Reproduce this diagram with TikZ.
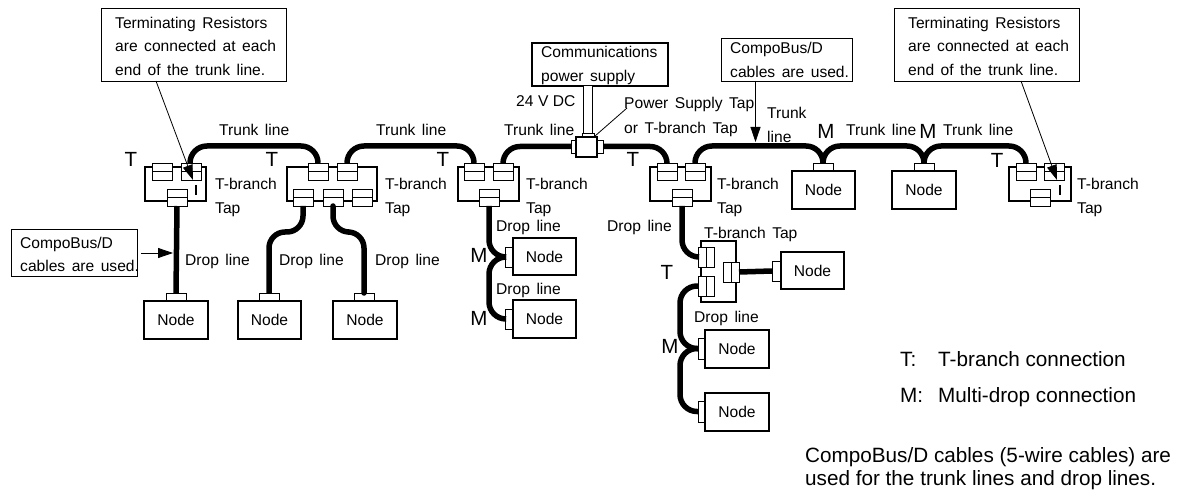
\documentclass[tikz,border=0pt]{standalone}
\usepackage{fontspec}
\setmainfont{Liberation Sans}
\usetikzlibrary{arrows.meta}
\newcommand{\bx}[6][]{% name x1 x2 y1 y2
  \pgfmathsetmacro{\bcx}{(#3+#4)/2}\pgfmathsetmacro{\bcy}{(#5+#6)/2}
  \pgfmathsetmacro{\bw}{#4-#3}\pgfmathsetmacro{\bh}{#6-#5}
  \node[minimum width=\bw pt,minimum height=\bh pt,#1] (#2) at (\bcx,\bcy) {};}
\newcommand{\vcon}[3]{%
  \bx[conn]{#1}{#2}{#2+20}{#3}{#3+17}
  \draw[connline] (#1.west) -- (#1.east);}
\newcommand{\hcon}[3]{%
  \bx[conn]{#1}{#2}{#2+16}{#3}{#3+20}
  \draw[connline] (#1.north) -- (#1.south);}
\newcommand{\lblfont}{\fontsize{15.6}{18}\selectfont\spaceskip=6.5pt plus 0pt minus 0pt\relax}
\tikzset{
  x=1pt,y=-1pt,
  conn/.style={draw,fill=white,line width=0.9pt,inner sep=0pt,outer sep=0pt},
  connline/.style={line width=0.9pt},
  tapbox/.style={draw,line width=1.3pt,inner sep=0pt,outer sep=0pt},
  nodebox/.style={draw,line width=1.4pt,fill=white,inner sep=0pt,outer sep=0pt},
  stub/.style={draw,fill=white,line width=0.9pt,inner sep=0pt,outer sep=0pt},
  callout/.style={draw,line width=0.9pt,fill=white,inner sep=0pt,outer sep=0pt},
  lbl/.style={anchor=base west,yshift=-5.7pt,inner sep=0pt,font=\lblfont},
  big/.style={inner sep=0pt,font=\fontsize{20.5}{22}\selectfont},
  leg/.style={anchor=base west,inner sep=0pt,font=\fontsize{20.7}{24}\selectfont},
  cable/.style={line width=5.5pt,rounded corners=17pt},
  lead/.style={line width=0.8pt,-{Triangle[length=15pt,width=10pt]}},
}
\begin{document}
\begin{tikzpicture}
\useasboundingbox (0,0) rectangle (1180,494);
% ---- tap boxes
\bx[tapbox]{tapA}{145}{206}{167}{201}
\bx[tapbox]{tapB}{287}{377}{167}{201}
\bx[tapbox]{tapC}{458}{519}{167}{201}
\bx[tapbox]{tapD}{650}{711}{167}{201}
\bx[tapbox]{tapE}{1009}{1071}{167}{201}
\bx[tapbox]{tapF}{701}{736}{241}{302}
% ---- connectors on taps
\vcon{aT1}{152}{163}\vcon{aT2}{181}{163}\vcon{aB}{167}{189}
\vcon{bT1}{308}{163}\vcon{bT2}{337}{163}\vcon{bB1}{293}{189}\vcon{bB2}{323}{189}\vcon{bB3}{352}{189}
\vcon{cT1}{464}{163}\vcon{cT2}{493}{163}\vcon{cB}{479}{189}
\vcon{dT1}{657}{163}\vcon{dT2}{685}{163}\vcon{dB}{672}{189}
\vcon{eT1}{1016}{163}\vcon{eT2}{1044}{163}\vcon{eB}{1030}{189}
\hcon{fL1}{698}{247}\hcon{fL2}{698}{276}\hcon{fR}{723}{262}
% ---- terminating resistors
\coordinate (ra1) at (196,185);\coordinate (ra2) at (196,195);
\coordinate (re1) at (1060,185);\coordinate (re2) at (1060,195);
\draw[line width=2.2pt] (ra1) -- (ra2);
\draw[line width=2.2pt] (re1) -- (re2);
% ---- power tap
\bx[stub]{psT}{582}{594}{133}{137}
\bx[stub]{psL}{571}{576}{140}{153}
\bx[stub]{psR}{597}{603}{140}{153}
\bx[tapbox,fill=white]{ps}{576}{597}{137}{157}
\bx[nodebox]{pw}{532}{668}{43}{86}
\draw[line width=0.8pt,double,double distance=7.5pt] (psT.north) -- (psT.north |- pw.south);
% ---- nodes
\bx[stub]{n1s}{166}{186}{293}{301}\bx[nodebox]{n1}{144}{208}{301}{339}
\bx[stub]{n2s}{259}{279}{293}{301}\bx[nodebox]{n2}{238}{301}{301}{339}
\bx[stub]{n3s}{354}{374}{293}{301}\bx[nodebox]{n3}{333}{397}{301}{339}
\bx[stub]{n4s}{505}{513}{247}{267}\bx[nodebox]{n4}{513}{576}{238}{275}
\bx[stub]{n5s}{505}{513}{309}{329}\bx[nodebox]{n5}{513}{576}{300}{338}
\bx[stub]{n6s}{772}{781}{261}{281}\bx[nodebox]{n6}{781}{844}{252}{289}
\bx[stub]{n7s}{698}{705}{338}{359}\bx[nodebox]{n7}{705}{769}{330}{368}
\bx[stub]{n8s}{698}{705}{401}{422}\bx[nodebox]{n8}{705}{769}{393}{431}
\bx[stub]{n9s}{813}{833}{163}{171}\bx[nodebox]{n9}{792}{855}{171}{209}
\bx[stub]{n10s}{914}{934}{163}{171}\bx[nodebox]{n10}{892}{956}{171}{209}
\foreach \n in {n1,n2,n3,n4,n5,n6,n7,n8,n9,n10}{\node[font=\fontsize{15.6}{18}\selectfont,inner sep=0pt] (\n txt) at (\n) {Node};}
% ---- trunk cables
\coordinate (ty) at (0,146);
\coordinate (xc) at (489,0);
\coordinate (xd) at (680,0);
\draw[cable] (aT2.north) ++(-1,0) |- (ty -| bT1.north) -- (bT1.north);
\draw[cable] (bT2.north) |- (ty -| cT1.north) -- (cT1.north);
\draw[cable] (cT2.north) |- (psL.west);
\draw[cable] (psR.east) -| (dT1.north);
\draw[cable] (dT2.north) |- (ty -| n9s.north) -- (n9s.north);
\draw[cable] (n9s.north) |- (ty -| n10s.north) -- (n10s.north);
\draw[cable] (n10s.north) |- (ty -| eT1.north) -- (eT1.north);
% ---- drop cables
\draw[cable,rounded corners=0pt] (aB.south) -- (n1s.north);
\coordinate (m2) at (0,232);
\draw[cable,rounded corners=16pt] (bB1.south) |- (m2 -| n2s.north) -- (n2s.north);
\draw[cable,rounded corners=16pt,line cap=round] (bB2.south) |- (m2 -| n3s.north) -- (n3s.north);
\draw[cable] (cB.south) |- (n4s.west);
\draw[cable] (n4s.west) -| (xc |- n5s.west) -- (n5s.west);
\draw[cable] (dB.south) |- (fL1.west);
\draw[cable] (fL2.west) -| (xd |- n7s.west) -- (n7s.west);
\draw[cable] (n7s.west) -| (xd |- n8s.west) -- (n8s.west);
\draw[cable,rounded corners=0pt] (fR.east) -- (n6s.west);
% ---- callouts
\bx[callout]{cTL}{101}{286}{8}{81}
\bx[callout]{cTR}{894}{1079}{8}{81}
\bx[callout]{cCL}{11}{137}{229}{276}
\bx[callout]{cCT}{721}{852}{38}{81}
\node[lbl] (tl1) at (115,23) {Terminating Resistors};
\node[lbl] (tl2) at (115,46) {are connected at each};
\node[lbl] (tl3) at (115,70) {end of the trunk line.};
\node[lbl] (tr1) at (908,23) {Terminating Resistors};
\node[lbl] (tr2) at (908,46) {are connected at each};
\node[lbl] (tr3) at (908,70) {end of the trunk line.};
\node[lbl] (cl1) at (20,243) {CompoBus/D};
\node[lbl] (cl2) at (20,266) {cables are used.};
\node[lbl] (ct1) at (730,48) {CompoBus/D};
\node[lbl] (ct2) at (730,72) {cables are used.};
\node[lbl] (pw1) at (541,52) {Communications};
\node[lbl] (pw2) at (541,76) {power supply};
% ---- leaders
\coordinate (lTL) at (156,81);\coordinate (aTL) at (193,180);
\coordinate (lTR) at (1021,81);\coordinate (aTR) at (1057,180);
\coordinate (lCL) at (141,253);\coordinate (aCL) at (173,253);
\coordinate (lCT) at (755.5,81);\coordinate (aCT) at (755.5,142);
\coordinate (lPS) at (627,108);\coordinate (aPS) at (595,136);
\draw[lead] (lTL) -- (aTL);
\draw[lead] (lTR) -- (aTR);
\draw[lead] (lCL) -- (aCL);
\draw[lead] (lCT) -- (aCT);
\draw[line width=0.8pt] (lPS) -- (aPS);
% ---- labels
\node[lbl] (l1) at (219,130) {Trunk line};
\node[lbl] (l2) at (376,130) {Trunk line};
\node[lbl] (l3) at (504,130) {Trunk line};
\node[lbl] (l4) at (846,130) {Trunk line};
\node[lbl] (l5) at (943,130) {Trunk line};
\node[lbl] (l6) at (767,113) {Trunk};
\node[lbl] (l7) at (767,137) {line};
\node[lbl] (l8) at (516,101) {\spaceskip=4.5pt\relax 24 V DC};
\node[lbl] (l9) at (624,103) {Power Supply Tap};
\node[lbl] (l10) at (624,128) {or T-branch Tap};
\foreach \nm/\x in {a/215,b/385,c/526,d/717,e/1077}{
  \node[lbl] (tb\nm) at (\x,184) {T-branch};
  \node[lbl] (tp\nm) at (\x,208) {Tap};
}
\node[lbl] (d1) at (185,260) {Drop line};
\node[lbl] (d2) at (279,260) {Drop line};
\node[lbl] (d3) at (375,260) {Drop line};
\node[lbl] (d4) at (496,226) {Drop line};
\node[lbl] (d5) at (496,289) {Drop line};
\node[lbl] (d6) at (607,226) {Drop line};
\node[lbl] (d7) at (694,317) {Drop line};
\node[lbl] (tbf) at (704,233) {T-branch Tap};
\node[big] (T1) at (131,159) {T};
\node[big] (T2) at (272,159) {T};
\node[big] (T3) at (443,159) {T};
\node[big] (T4) at (633,159) {T};
\node[big] (T5) at (997,160) {T};
\node[big] (T6) at (667,272) {T};
\node[big] (M1) at (826,131) {M};
\node[big] (M2) at (928,131) {M};
\node[big] (M3) at (479,255) {M};
\node[big] (M4) at (479,318) {M};
\node[big] (M5) at (670,346) {M};
% ---- legend
\node[leg] (g1) at (900,366) {T:};
\node[leg] (g2) at (938,366) {T-branch connection};
\node[leg] (g3) at (900,402) {M:};
\node[leg] (g4) at (938,402) {Multi-drop connection};
\node[leg] (g5) at (805,462) {CompoBus/D cables (5-wire cables) are};
\node[leg] (g6) at (805,485) {used for the trunk lines and drop lines.};
\end{tikzpicture}
\end{document}
